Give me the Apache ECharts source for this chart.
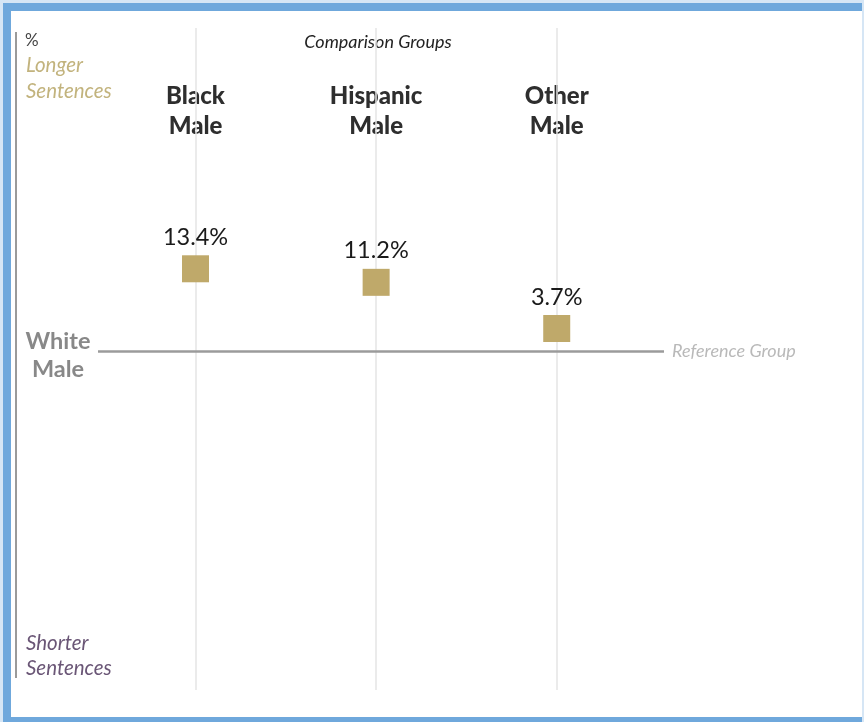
<!DOCTYPE html>
<html>
<head>
<meta charset="utf-8">
<script src="https://cdn.jsdelivr.net/npm/echarts@6/dist/echarts.min.js"></script>
<style>
  html, body { margin: 0; padding: 0; width: 864px; height: 722px; overflow: hidden; background: #d6e6f5; }
  #frame { position: absolute; left: 3px; top: 3px; width: 859px; height: 719px; background: #6fa8dc; }
  #panel { position: absolute; left: 11px; top: 11px; width: 851px; height: 706px; background: #ffffff; }
  #chart { position: absolute; left: 0; top: 0; width: 864px; height: 722px; }
</style>
</head>
<body>
<div id="frame"></div>
<div id="panel"></div>
<div id="chart"></div>
<script>
// ---- data ----
const categories = ['Black\nMale', 'Hispanic\nMale', 'Other\nMale'];
const values = [13.4, 11.2, 3.7];
const referenceValue = 0;
const referenceLabel = 'White\nMale';
const referenceNote = 'Reference Group';
const axisTitle = 'Comparison Groups';
const upperNote = 'Longer\nSentences';
const lowerNote = 'Shorter\nSentences';
const unitNote = '%';

const FONT = 'Lato, "Open Sans", sans-serif';
const chart = echarts.init(document.getElementById('chart'), null, { renderer: 'canvas' });

const option = {
  animation: false,
  backgroundColor: 'transparent',
  grid: { left: 98, right: 200, top: 28, bottom: 32 },
  xAxis: {
    type: 'value', min: -0.54, max: 2.594, show: false,
    splitLine: { show: false }
  },
  yAxis: {
    type: 'value', min: -55, max: 52.5, show: false,
    splitLine: { show: false }
  },
  series: [
    {
      type: 'line',
      data: [],
      silent: true,
      z: 1,
      markLine: {
        silent: true,
        symbol: 'none',
        animation: false,
        label: { show: false },
        lineStyle: { color: '#e4e4e4', width: 1.5, type: 'solid' },
        data: categories.map((c, i) => ({ xAxis: i }))
      }
    },
    {
      type: 'line',
      data: [],
      silent: true,
      z: 2,
      markLine: {
        silent: true,
        symbol: 'none',
        animation: false,
        lineStyle: { color: '#9b9b9b', width: 2.5, type: 'solid' },
        label: {
          show: true,
          position: 'end',
          distance: 8,
          formatter: referenceNote,
          fontFamily: FONT,
          fontStyle: 'italic',
          fontSize: 18,
          color: '#b9b9b9'
        },
        data: [{ yAxis: referenceValue }]
      }
    },
    {
      type: 'scatter',
      z: 5,
      clip: false,
      symbol: 'rect',
      symbolSize: 27,
      itemStyle: { color: '#bfa96a', opacity: 1 },
      label: {
        show: true,
        position: 'top',
        distance: 6,
        formatter: p => p.value[1].toFixed(1) + '%',
        fontFamily: FONT,
        fontSize: 23.5,
        color: '#1a1a1a'
      },
      data: values.map((v, i) => [i, v])
    }
  ]
};
chart.setOption(option);

const refY = chart.convertToPixel({ yAxisIndex: 0 }, referenceValue);
const graphics = [
  { type: 'line', shape: { x1: 16, y1: 32, x2: 16, y2: 678 }, style: { stroke: '#9a9a9a', lineWidth: 2 } },
  { type: 'text', x: 25, y: 41, style: { text: unitNote, font: '17px ' + FONT, fill: '#444444', textVerticalAlign: 'middle' } },
  { type: 'text', x: 26, y: 78, style: { text: upperNote, font: 'italic 20.5px ' + FONT, fill: '#c2b37d', lineHeight: 26, textVerticalAlign: 'middle' } },
  { type: 'text', x: 26, y: 656, style: { text: lowerNote, font: 'italic 20.5px ' + FONT, fill: '#6a5676', lineHeight: 25, textVerticalAlign: 'middle' } },
  { type: 'text', x: 378, y: 42, style: { text: axisTitle, font: 'italic 18px ' + FONT, fill: '#222222', textAlign: 'center', textVerticalAlign: 'middle' } },
  { type: 'text', x: 58, y: refY + 4, style: { text: referenceLabel, font: 'bold 23.5px ' + FONT, fill: '#888888', textAlign: 'center', textVerticalAlign: 'middle', lineHeight: 28 } }
];
categories.forEach((c, i) => {
  const x = chart.convertToPixel({ xAxisIndex: 0 }, i);
  graphics.push({ type: 'text', x: x, y: 111, style: { text: c, font: '900 24px ' + FONT, fill: '#2e2e2e', textAlign: 'center', textVerticalAlign: 'middle', lineHeight: 30 } });
});
chart.setOption({ graphic: graphics });
</script>
</body>
</html>
